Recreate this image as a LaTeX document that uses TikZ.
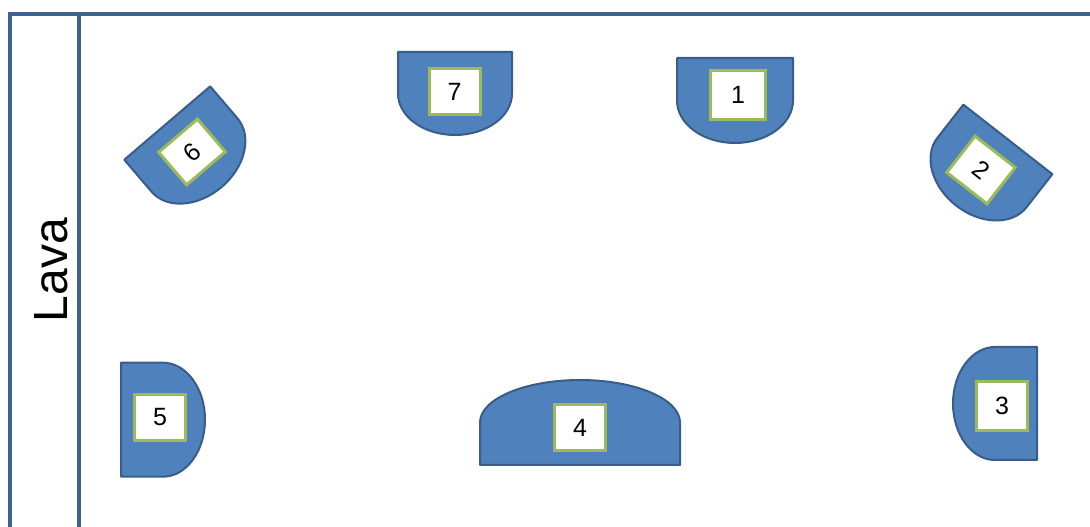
\documentclass[tikz,border=0pt]{standalone}
\usepackage{fontspec}
\setmainfont{Liberation Sans}
\definecolor{framec}{HTML}{3E6392}
\definecolor{dfill}{HTML}{4F81BD}
\definecolor{dline}{HTML}{385D8A}
\definecolor{boxgreen}{HTML}{9BBB59}
\tikzset{
  dstyle/.style={fill=dfill, draw=dline, line width=2pt, line join=round},
  numbox/.style={draw=boxgreen, fill=white, line width=3pt, minimum width=51pt, minimum height=46pt, inner sep=0pt, font=\fontsize{25}{25}\selectfont},
  framestyle/.style={draw=framec, line width=4.5pt, line join=miter}
}
\newcommand\DShape[5]{%
  \begin{scope}[shift={(#1,#2)},rotate=#3]
    \path[dstyle] (-#4/2,#5/2) -- (#4/2,#5/2) -- (#4/2,0)
      .. controls (#4/2,-0.5523*#5/2) and (0.5523*#4/2,-#5/2) .. (0,-#5/2)
      .. controls (-0.5523*#4/2,-#5/2) and (-#4/2,-0.5523*#5/2) .. (-#4/2,0) -- cycle;
  \end{scope}}
\begin{document}
\begin{tikzpicture}[x=1pt,y=1pt]
\useasboundingbox (0,0) rectangle (1090,527);
\clip (0,0) rectangle (1090,527);
% frame
\path[framestyle] (10,-20) -- (10,513) -- (1110,513);
\path[framestyle, line width=3.5pt] (79,-20) -- (79,513);
\node[rotate=90, inner sep=0pt, font=\fontsize{48}{48}\selectfont] (lava) at (51,257) {Lava};
% shapes
\DShape{455}{433.5}{0}{114}{83}
\DShape{735}{426.5}{0}{116}{85}
\DShape{194.5}{372}{40.5}{113}{84}
\DShape{982}{354.5}{-38}{113}{84}
\DShape{163}{107.3}{90}{114}{84}
\DShape{995}{123.5}{-90}{113}{84}
\DShape{580}{104.5}{180}{200}{85}
% boxes
\node[numbox, minimum width=55pt, minimum height=49pt] (b1) at (738,432) {1};
\node[numbox, rotate=-38] (b2) at (981,357) {2};
\node[numbox, minimum height=49pt] (b3) at (1002,121) {3};
\node[numbox] (b4) at (580,99.5) {4};
\node[numbox] (b5) at (160,109.5) {5};
\node[numbox, rotate=40.5, minimum height=43pt] (b6) at (192,375) {6};
\node[numbox] (b7) at (454.5,435) {7};
\end{tikzpicture}
\end{document}
